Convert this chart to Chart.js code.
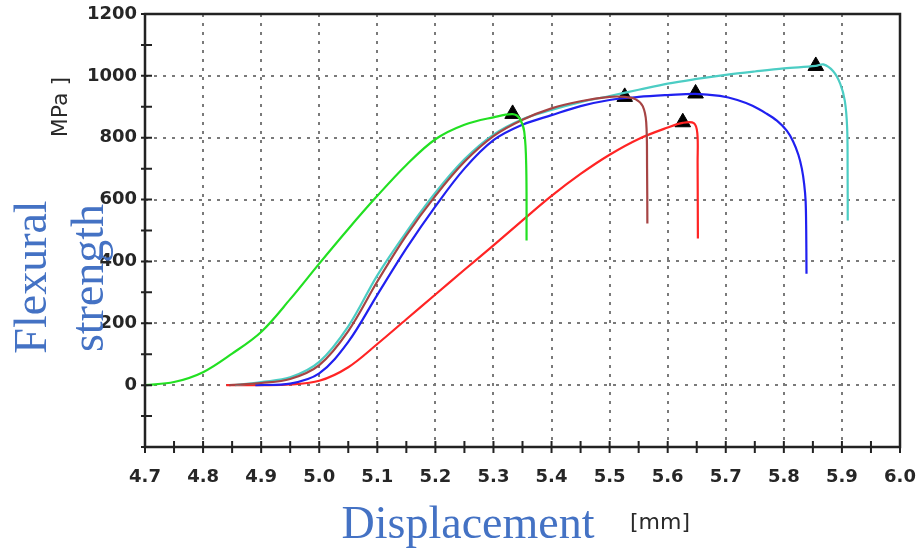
<!DOCTYPE html>
<html lang="en">
<head>
    <meta charset="UTF-8">
    <title>Flexural strength vs displacement</title>
    <style>
        * { box-sizing: border-box; }
        body { margin: 0; background: #fff; }
        .wrap { position: relative; width: 922px; height: 554px; }
        .lbl { position: absolute; white-space: nowrap; line-height: 1; }
        .big { font-family: "Liberation Serif", "DejaVu Serif", serif; font-size: 46px; color: #4472c4; }
        .unit { font-family: "DejaVu Sans", sans-serif; font-size: 22px; color: #2a2a2a; }
        .rot { transform: translate(-50%, -50%) rotate(-90deg); }
        .mid { transform: translate(-50%, -50%); }
    </style>
</head>
<body>
    <div class="wrap">
        <canvas id="mychart" width="922" height="554"></canvas>
        <div class="lbl unit rot" style="left:60px; top:107px;">MPa ]</div>
        <div class="lbl big rot" style="left:31px; top:277px;">Flexural</div>
        <div class="lbl big rot" style="left:88px; top:278px;">strength</div>
        <div class="lbl big mid" style="left:468px; top:523px;">Displacement</div>
        <div class="lbl unit mid" style="left:660px; top:522px;">[mm]</div>
    </div>

    <script src="https://cdnjs.cloudflare.com/ajax/libs/Chart.js/4.4.1/chart.umd.min.js"></script>
    <script>
        // curves (displacement mm, strength MPa)
        const greenX = [4.70, 4.75, 4.80, 4.85, 4.90, 4.95, 5.00, 5.05, 5.10, 5.15, 5.20, 5.25, 5.30, 5.333, 5.345, 5.353, 5.3565, 5.357];
        const greenY = [0, 10, 42, 102, 172, 278, 393, 505, 612, 712, 795, 842, 866, 876, 862, 820, 700, 468];

        const brownX = [4.845, 4.90, 4.95, 5.00, 5.05, 5.10, 5.15, 5.20, 5.25, 5.30, 5.35, 5.40, 5.45, 5.50, 5.526, 5.545, 5.557, 5.563, 5.5645, 5.565];
        const brownY = [0, 7, 20, 65, 175, 335, 484, 612, 722, 805, 858, 895, 918, 932, 932, 924, 902, 850, 700, 523];

        const cyanX = [4.855, 4.90, 4.95, 5.00, 5.05, 5.10, 5.15, 5.20, 5.25, 5.30, 5.35, 5.40, 5.45, 5.50, 5.55, 5.60, 5.65, 5.70, 5.75, 5.80, 5.855, 5.868, 5.885, 5.897, 5.905, 5.909, 5.9098, 5.91];
        const cyanY = [0, 10, 25, 75, 190, 355, 495, 622, 730, 810, 860, 890, 915, 935, 955, 975, 990, 1003, 1014, 1024, 1032, 1037, 1015, 975, 919, 832, 700, 532];

        const blueX = [4.89, 4.95, 5.00, 5.05, 5.10, 5.15, 5.20, 5.25, 5.30, 5.35, 5.40, 5.45, 5.50, 5.55, 5.60, 5.648, 5.69, 5.72, 5.746, 5.77, 5.788, 5.805, 5.816, 5.825, 5.831, 5.835, 5.8375, 5.8385, 5.839];
        const blueY = [0, 5, 38, 140, 292, 442, 578, 700, 792, 842, 873, 902, 922, 932, 938, 942, 935, 922, 903, 878, 855, 823, 788, 745, 700, 650, 595, 500, 360];

        const redX = [4.84, 4.90, 4.95, 5.00, 5.05, 5.10, 5.15, 5.20, 5.25, 5.30, 5.35, 5.40, 5.45, 5.50, 5.55, 5.60, 5.626, 5.645, 5.651, 5.6515, 5.652];
        const redY = [0, 0, 2, 14, 58, 133, 213, 293, 373, 452, 533, 612, 683, 745, 796, 833, 848, 847, 815, 720, 474];

        // peak markers
        const peakX = [5.333, 5.526, 5.626, 5.648, 5.855];
        const peakY = [877, 932, 850, 943, 1032];

        const pts = (xs, ys) => xs.map((x, i) => ({ x: x, y: ys[i] }));

        const curve = (label, xs, ys, color) => ({
            label: label,
            data: pts(xs, ys),
            showLine: true,
            borderColor: color,
            borderWidth: 2.2,
            pointRadius: 0,
            tension: 0.35,
        });

        // ticks crossing the axes + the box round the plot
        const frameTicks = {
            id: "frameTicks",
            afterDraw(chart) {
                const { ctx, chartArea: a, scales: { x, y } } = chart;
                ctx.save();
                ctx.strokeStyle = "#222";
                ctx.lineWidth = 2;
                ctx.beginPath();
                y.ticks.forEach(t => {
                    const py = y.getPixelForValue(t.value);
                    ctx.moveTo(a.left - 4, py);
                    ctx.lineTo(a.left + 7, py);
                });
                x.ticks.forEach(t => {
                    const px = x.getPixelForValue(t.value);
                    ctx.moveTo(px, a.bottom - 6);
                    ctx.lineTo(px, a.bottom + 6);
                });
                ctx.stroke();
                ctx.lineWidth = 2.5;
                ctx.strokeRect(a.left, a.top, a.right - a.left, a.bottom - a.top);
                ctx.restore();
            }
        };

        const isMajorX = v => Math.abs(v * 10 - Math.round(v * 10)) < 1e-6;
        const isMajorY = v => v % 200 === 0;

        new Chart(document.getElementById("mychart"), {
            type: "scatter",
            data: {
                datasets: [
                    curve("green", greenX, greenY, "#22e022"),
                    curve("brown", brownX, brownY, "#a64444"),
                    curve("cyan", cyanX, cyanY, "#4ccdc4"),
                    curve("blue", blueX, blueY, "#2020f0"),
                    curve("red", redX, redY, "#ff2424"),
                    {
                        label: "peak",
                        data: pts(peakX, peakY),
                        showLine: false,
                        pointStyle: "triangle",
                        pointRadius: 9,
                        backgroundColor: "#000",
                        borderColor: "#000",
                    },
                ],
            },
            options: {
                responsive: false,
                animation: false,
                layout: { padding: { left: 0, top: 14, right: 22, bottom: 0 } },
                plugins: {
                    legend: { display: false },
                    tooltip: { enabled: false },
                },
                scales: {
                    x: {
                        type: "linear",
                        min: 4.7,
                        max: 6.0,
                        afterFit: s => { s.height = 107; s.paddingLeft = 0; s.paddingRight = 0; },
                        border: { display: false, dash: [3, 6] },
                        grid: {
                            drawTicks: false,
                            lineWidth: 2,
                            color: c => (c.tick && isMajorX(c.tick.value)) ? "#7a7a7a" : "rgba(0,0,0,0)",
                        },
                        ticks: {
                            stepSize: 0.05,
                            autoSkip: false,
                            maxRotation: 0,
                            minRotation: 0,
                            padding: 20,
                            color: "#262626",
                            font: { family: "DejaVu Sans", size: 18, weight: "bold" },
                            callback: v => isMajorX(v) ? v.toFixed(1) : "",
                        },
                    },
                    y: {
                        min: -200,
                        max: 1200,
                        afterFit: s => { s.width = 145; s.paddingTop = 0; s.paddingBottom = 0; },
                        border: { display: false, dash: [3, 6] },
                        grid: {
                            drawTicks: false,
                            lineWidth: 2,
                            color: c => (c.tick && isMajorY(c.tick.value)) ? "#7a7a7a" : "rgba(0,0,0,0)",
                        },
                        ticks: {
                            stepSize: 100,
                            autoSkip: false,
                            padding: 8,
                            color: "#262626",
                            font: { family: "DejaVu Sans", size: 18, weight: "bold" },
                            callback: v => (isMajorY(v) && v > -200) ? v : "",
                        },
                    },
                },
            },
            plugins: [frameTicks],
        });
    </script>
</body>
</html>
